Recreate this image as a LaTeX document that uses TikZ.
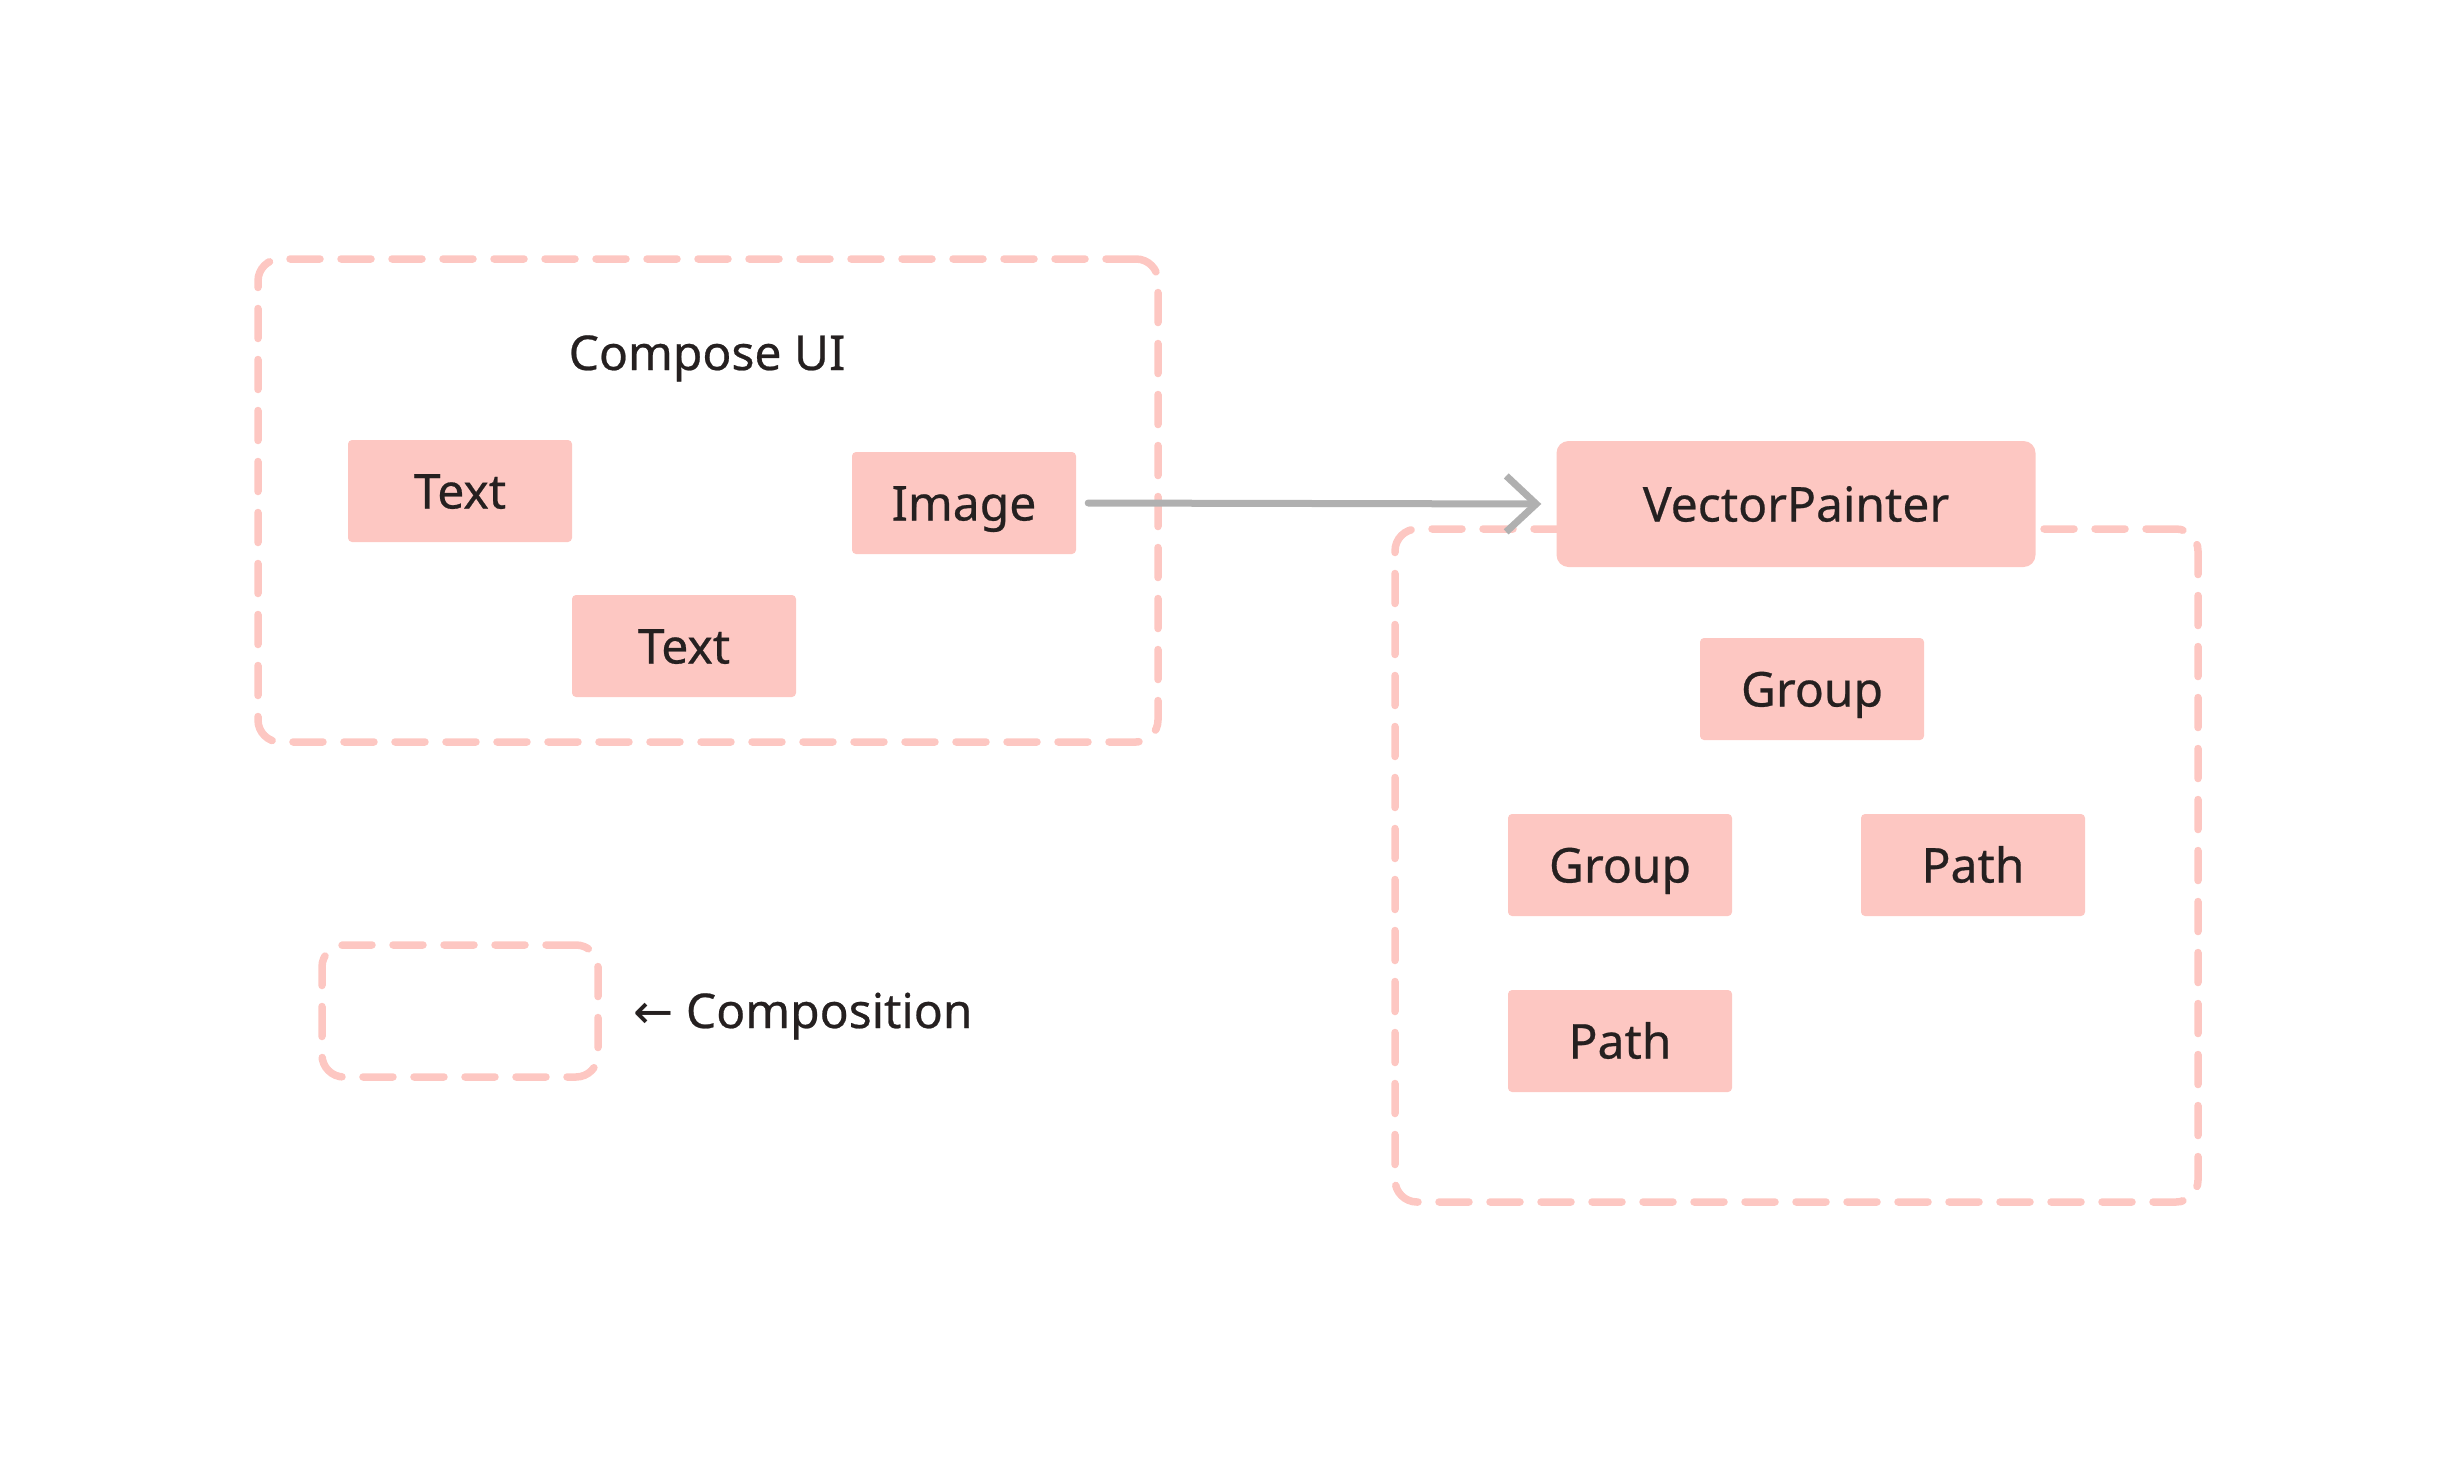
\documentclass[tikz,border=0pt]{standalone}
\usepackage{fontspec}
\setmainfont{Noto Sans}[UprightFeatures={FakeBold=0.5}]
\newfontfamily\arrowfont{DejaVu Sans}
\usepackage{tikz}
\usetikzlibrary{positioning,arrows.meta}
\definecolor{boxpink}{HTML}{FDC7C2}
\definecolor{ink}{HTML}{252020}
\definecolor{linkgray}{HTML}{B0B0B0}

\begin{document}
\begin{tikzpicture}
  [x=1pt,y=-1pt,every node/.style={text=ink,font=\fontsize{48}{58}\selectfont},
   elem/.style={fill=boxpink,rounded corners=4pt,minimum width=224pt,minimum height=102pt,inner sep=0pt,text height=35pt,text depth=0pt},
   frame/.style={draw=boxpink,line width=7.5pt,dash pattern=on 30pt off 21pt,line cap=round,rounded corners=22pt,inner sep=0pt},
   link/.style={draw=linkgray,line width=7pt,line cap=round,line join=round,-{Straight Barb[length=30pt,width=56pt]}}]
  \useasboundingbox (0,0) rectangle (2456,1462);
  % compositions
  \node[frame,minimum width=900pt,minimum height=483pt] (ui) at (708,500.5) {};
  \node[frame,minimum width=803pt,minimum height=673pt] (vec) at (1796.5,865.5) {};
  \node[frame,minimum width=276pt,minimum height=132pt] (key) at (460,1011) {};

  \node[anchor=base] (uilabel) at (707,370) {Compose UI};
  \node[elem] (t1) at (460,491) {Text};
  \node[elem] (img) at (964,503) {Image};
  \node[elem] (t2) at (684,646) {Text};

  \node[elem,minimum width=479pt,minimum height=126pt,rounded corners=12pt] (vp) at (1796,504) {VectorPainter};
  \node[elem] (g1) at (1812,689) {Group};
  \node[elem] (g2) at (1620,865) {Group};
  \node[elem] (p1) at (1973,865) {Path};
  \node[elem] (p2) at (1620,1041) {Path};

  \draw[link,shorten <=12pt,shorten >=15pt] (img.east) -- (vp.west);

  \node[anchor=base west,inner sep=0pt] (keylabel) at (633,1028) {{\arrowfont ←} Composition};
\end{tikzpicture}
\end{document}
